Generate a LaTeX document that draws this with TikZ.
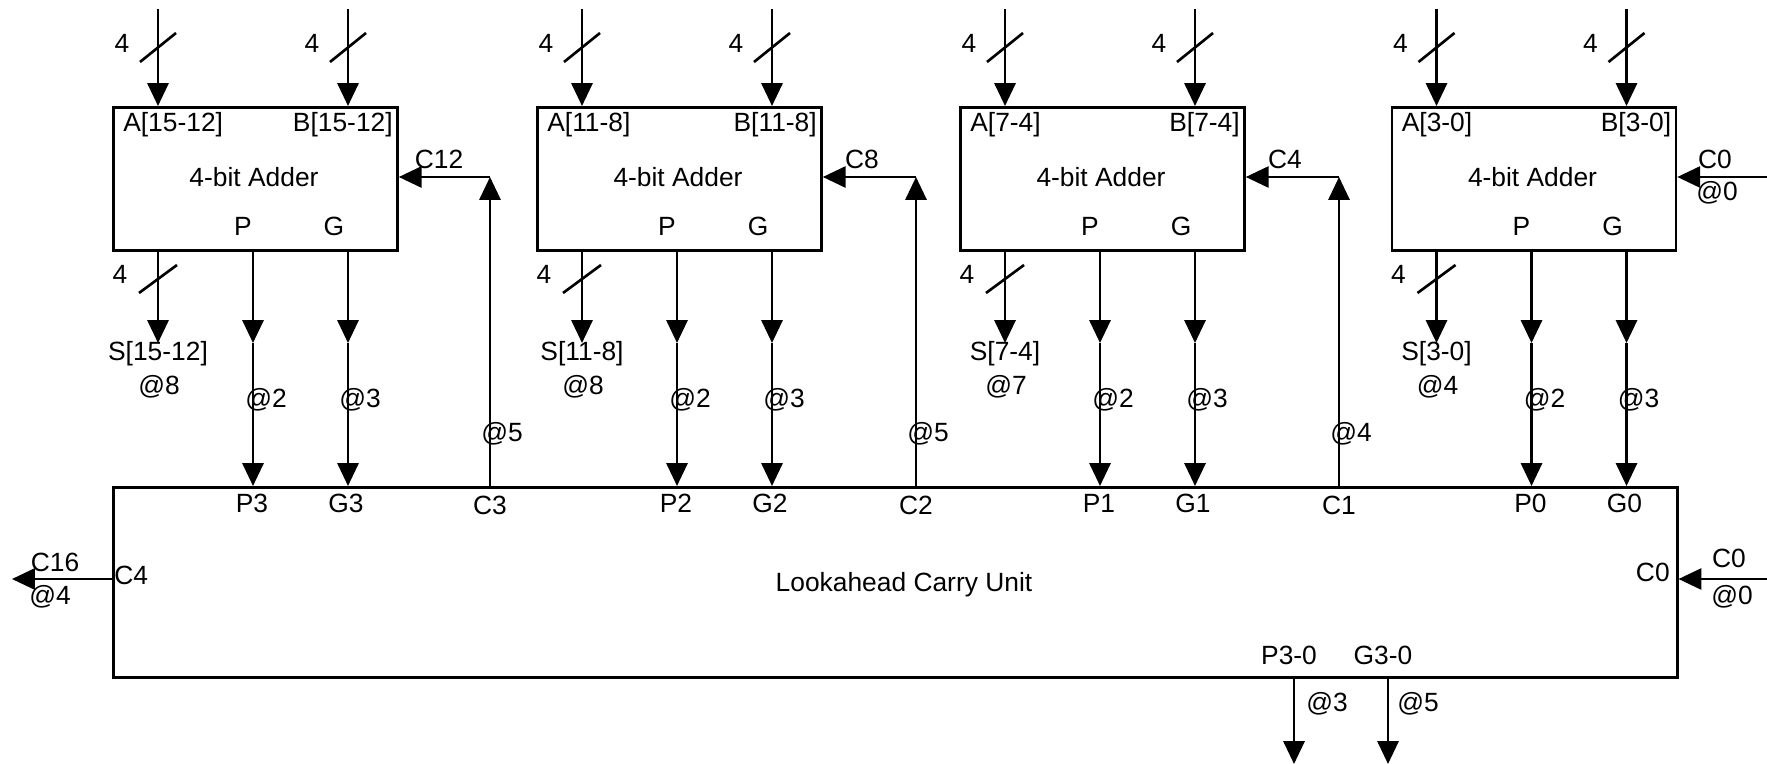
\documentclass[tikz,border=0pt]{standalone}
\usepackage{fontspec}
\setmainfont{Liberation Sans}
\usetikzlibrary{arrows.meta}

\begin{document}
\begin{tikzpicture}[x=0.01cm, y=-0.01cm, >={Triangle[length=6.5pt,width=6pt]}, line width=0.75pt,
    font=\fontsize{7.5}{9}\selectfont,
    adder/.style={draw, minimum width=2.84cm, minimum height=1.43cm, inner sep=0pt, anchor=north west},
    lab/.style={inner sep=0pt}]
  \useasboundingbox (0,0) rectangle (1767,764);

  % Lookahead carry unit
  \node[adder, minimum width=15.63cm, minimum height=1.90cm] (lcu) at (112,486) {};
  \node[lab] (lcutxt) at (904,585) {Lookahead Carry Unit};

  % the four 4-bit adders
  \foreach \i/\x/\r/\s in {3/112/15-12/8, 2/536/11-8/8, 1/959/7-4/7, 0/1390.5/3-0/4} {
    \node[adder] (add\i) at (\x,106) {};
    \node[lab] (ttl\i) at (\x+142,177) {4-bit Adder};
    \node[lab, anchor=west] (la\i) at (\x+10,125) {A[\r]};
    \node[lab, anchor=east] (lb\i) at (\x+282,125) {B[\r]};
    \node[lab] (lp\i) at (\x+131,226) {P};
    \node[lab] (lg\i) at (\x+222,226) {G};

    % inputs A and B
    \coordinate (ia\i) at (\x+46,9);
    \coordinate (ib\i) at (\x+236,9);
    \draw[->] (ia\i) -- (ia\i |- add\i.north);
    \draw[->] (ib\i) -- (ib\i |- add\i.north);
    \draw (\x+28,62) -- (\x+64,33);
    \draw (\x+218,62) -- (\x+254,33);
    \node[lab] (wa\i) at (\x+10,43) {4};
    \node[lab] (wb\i) at (\x+200,43) {4};

    % sum output
    \coordinate (so\i) at (\x+46,343);
    \draw[->] (so\i |- add\i.south) -- (so\i);
    \draw (\x+27,293) -- (\x+65,265);
    \node[lab] (ws\i) at (\x+8,274) {4};
    \node[lab] (ls\i) at (\x+46,354) {S[\r]};
    \node[lab] (ts\i) at (\x+47,387) {@\s};

    % P and G to the carry unit
    \coordinate (po\i) at (\x+141,343);
    \coordinate (go\i) at (\x+236,343);
    \draw[->] (po\i |- add\i.south) -- (po\i);
    \draw[->] (po\i) -- (po\i |- lcu.north);
    \draw[->] (go\i |- add\i.south) -- (go\i);
    \draw[->] (go\i) -- (go\i |- lcu.north);
    \node[lab] (tp\i) at (\x+154,400) {@2};
    \node[lab] (tg\i) at (\x+248,400) {@3};
    \node[lab] (up\i) at (\x+140,503) {P\i};
    \node[lab] (ug\i) at (\x+234,503) {G\i};
  }

  % carries back from the unit
  \foreach \i/\e/\c/\k/\t in {3/397/490/12/5, 2/820/916/8/5, 1/1243/1339/4/4} {
    \coordinate (ct\i) at (\c,177);
    \draw[->] (ct\i |- lcu.north) -- (ct\i);
    \draw[->] (ct\i) -- (ct\i -| add\i.east);
    \node[lab] (lc\i) at (\e+42,159) {C\k};
    \node[lab] (tc\i) at (\c+12,434) {@\t};
    \node[lab] (uc\i) at (\c,505) {C\i};
  }

  % carry in of the first adder
  \coordinate (cin0) at (1767,177);
  \draw[->] (cin0) -- (cin0 -| add0.east);
  \node[lab] (lcin0) at (1715,159) {C0};
  \node[lab] (tcin0) at (1717,193) {@0};

  % carry in and out of the unit
  \coordinate (cin) at (1767,579);
  \draw[->] (cin) -- (cin -| lcu.east);
  \node[lab] (lcin) at (1729,558) {C0};
  \node[lab] (tcin) at (1732,597) {@0};
  \node[lab, anchor=east] (ucin) at (1671,572) {C0};

  \coordinate (cout) at (12,579);
  \draw[->] (cout -| lcu.west) -- (cout);
  \node[lab] (lcout) at (55,562) {C16};
  \node[lab] (tcout) at (50,597) {@4};
  \node[lab, anchor=west] (ucout) at (113,575) {C4};

  % group P and G
  \coordinate (pout) at (1294,764);
  \coordinate (gout) at (1388,764);
  \draw[->] (pout |- lcu.south) -- (pout);
  \draw[->] (gout |- lcu.south) -- (gout);
  \node[lab] (upout) at (1289,655) {P3-0};
  \node[lab] (ugout) at (1383,655) {G3-0};
  \node[lab] (tpout) at (1327,704) {@3};
  \node[lab] (tgout) at (1418,704) {@5};
\end{tikzpicture}
\end{document}
